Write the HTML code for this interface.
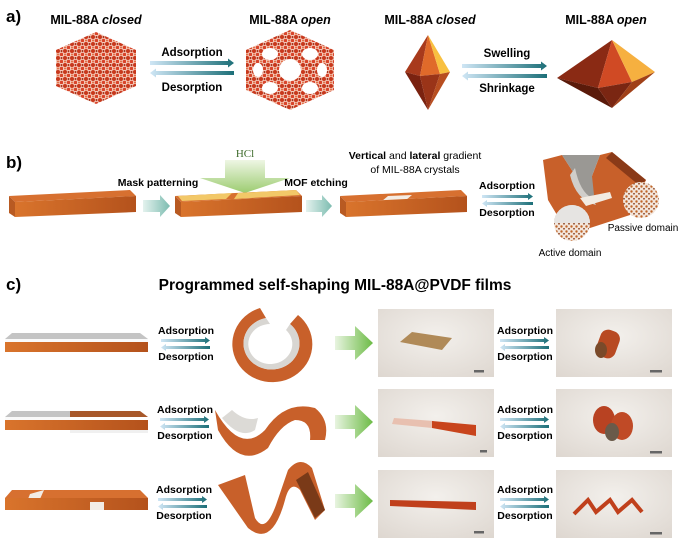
<!DOCTYPE html>
<html><head><meta charset="utf-8"><style>
html,body{margin:0;padding:0;background:#fff;}
svg{display:block;font-family:"Liberation Sans",Arial,sans-serif;}
.b{font-weight:bold;}
</style></head><body>
<svg width="680" height="542" viewBox="0 0 680 542" xmlns="http://www.w3.org/2000/svg">
<defs>
<linearGradient id="ar" x1="0" x2="1"><stop offset="0" stop-color="#cfe6f5"/><stop offset="1" stop-color="#1c6f78"/></linearGradient>
<linearGradient id="al" x1="1" x2="0"><stop offset="0" stop-color="#1c6f78"/><stop offset="1" stop-color="#cfe6f5"/></linearGradient>
<linearGradient id="gr" x1="0" x2="1"><stop offset="0" stop-color="#e8f4e0"/><stop offset="1" stop-color="#6cbb45"/></linearGradient>
<linearGradient id="gd" x1="0" y1="0" x2="0" y2="1"><stop offset="0" stop-color="#eef6e4"/><stop offset="1" stop-color="#9ccc70"/></linearGradient>
<linearGradient id="tl" x1="0" x2="1"><stop offset="0" stop-color="#e4f2ee"/><stop offset="1" stop-color="#7cbcb0"/></linearGradient>
<linearGradient id="fr" x1="0" x2="1"><stop offset="0" stop-color="#d9742c"/><stop offset="1" stop-color="#b4521c"/></linearGradient>
<radialGradient id="ph" cx="0.5" cy="0.4" r="0.8"><stop offset="0" stop-color="#f3f0ec"/><stop offset="1" stop-color="#ddd6cf"/></radialGradient>
<pattern id="dots" width="5" height="5" patternUnits="userSpaceOnUse"><rect width="5" height="5" fill="#f3e6dc"/><circle cx="1.5" cy="1.5" r="1.2" fill="#c0662a"/><circle cx="4" cy="3.8" r="0.9" fill="#8c4420"/></pattern>
<pattern id="hex" width="7" height="7" patternUnits="userSpaceOnUse"><rect width="7" height="7" fill="#f4c8b8"/><circle cx="2" cy="2" r="2" fill="#c8381c"/><circle cx="5.5" cy="5.5" r="1.8" fill="#d8442a"/><circle cx="5.5" cy="2" r="1" fill="#a02a12"/><circle cx="2" cy="5.5" r="1" fill="#e06a40"/></pattern>
</defs>

<!-- a -->
<text x="6" y="22" class="b" font-size="17">a)</text>
<text x="96" y="24" class="b" font-size="12.5" text-anchor="middle">MIL-88A <tspan font-style="italic">closed</tspan></text>
<text x="290" y="24" class="b" font-size="12.5" text-anchor="middle">MIL-88A <tspan font-style="italic">open</tspan></text>
<text x="430" y="24" class="b" font-size="12.5" text-anchor="middle">MIL-88A <tspan font-style="italic">closed</tspan></text>
<text x="606" y="24" class="b" font-size="12.5" text-anchor="middle">MIL-88A <tspan font-style="italic">open</tspan></text>
<polygon points="96,32 136,50 136,86 96,104 56,86 56,50" fill="url(#hex)"/>
<polygon points="290,30 334,50 334,90 290,110 246,90 246,50" fill="url(#hex)"/>
<g fill="#fff"><circle cx="290" cy="70" r="11"/><ellipse cx="270" cy="54" rx="8" ry="6"/><ellipse cx="310" cy="54" rx="8" ry="6"/><ellipse cx="270" cy="88" rx="8" ry="6"/><ellipse cx="310" cy="88" rx="8" ry="6"/><ellipse cx="258" cy="70" rx="5" ry="7"/><ellipse cx="322" cy="70" rx="5" ry="7"/></g>
<text x="192" y="56" class="b" font-size="11.5" text-anchor="middle">Adsorption</text>
<polygon points="150,61 228,61 228,58.5 234,63 228,67.5 228,65 150,65" fill="url(#ar)"/>
<polygon points="234,71 156,71 156,68.5 150,73 156,77.5 156,75 234,75" fill="url(#al)"/>
<text x="192" y="91" class="b" font-size="11.5" text-anchor="middle">Desorption</text>
<polygon points="428,35 405,72 420,76" fill="#a83a1c"/>
<polygon points="428,35 420,76 440,74" fill="#e06a2a"/>
<polygon points="428,35 440,74 450,72" fill="#f8c040"/>
<polygon points="405,72 420,76 428,110" fill="#7a2210"/>
<polygon points="420,76 440,74 428,110" fill="#9a3418"/>
<polygon points="440,74 450,72 428,110" fill="#b84e20"/>
<text x="507" y="57" class="b" font-size="11.5" text-anchor="middle">Swelling</text>
<polygon points="462,64 541,64 541,61.5 547,66 541,70.5 541,68 462,68" fill="url(#ar)"/>
<polygon points="547,74 468,74 468,71.5 462,76 468,80.5 468,78 547,78" fill="url(#al)"/>
<text x="507" y="92" class="b" font-size="11.5" text-anchor="middle">Shrinkage</text>
<polygon points="612,40 557,78 598,88" fill="#8a2a14"/>
<polygon points="612,40 598,88 632,82" fill="#d04a24"/>
<polygon points="612,40 632,82 655,72" fill="#f6b040"/>
<polygon points="557,78 598,88 612,108" fill="#5a1a0a"/>
<polygon points="598,88 632,82 612,108" fill="#7a2612"/>
<polygon points="632,82 655,72 612,108" fill="#a04018"/>

<!-- b -->
<text x="6" y="168" class="b" font-size="17">b)</text>
<text x="245" y="157" font-size="11" fill="#3c6a2a" text-anchor="middle" font-family="Liberation Serif,serif">HCl</text>
<polygon points="225,160 265,160 265,178 290,178 245,193 200,178 225,178" fill="url(#gd)"/>
<text x="158" y="186" class="b" font-size="10.5" text-anchor="middle">Mask patterning</text>
<text x="316" y="186" class="b" font-size="10.5" text-anchor="middle">MOF etching</text>
<text x="415" y="159" font-size="10.5" text-anchor="middle"><tspan class="b">Vertical</tspan> and <tspan class="b">lateral</tspan> gradient</text>
<text x="415" y="173" font-size="10.5" text-anchor="middle">of MIL-88A crystals</text>
<g>
<polygon points="9,196 130,190 136,196 15,202" fill="#d77030"/>
<polygon points="9,196 15,202 15,217 9,213" fill="#b85a22"/>
<polygon points="15,202 136,196 136,212 15,217" fill="url(#fr)"/>
<polygon points="143,200 160,200 160,195 170,206 160,217 160,212 143,212" fill="url(#tl)"/>
<polygon points="175,196 296,190 302,196 181,202" fill="#d77030"/>
<polygon points="178,196 232,193 226,199 182,201" fill="#f2c868"/>
<polygon points="238,193 296,190 300,195 234,199" fill="#f2c868"/>
<polygon points="175,196 181,202 181,217 175,213" fill="#b85a22"/>
<polygon points="181,202 302,196 302,212 181,217" fill="url(#fr)"/>
<polygon points="306,200 322,200 322,195 332,206 322,217 322,212 306,212" fill="url(#tl)"/>
<polygon points="340,196 461,190 467,196 346,202" fill="#d77030"/>
<polygon points="382,201 388,196 412,195 406,200" fill="#f4ece4"/>
<polygon points="340,196 346,202 346,217 340,213" fill="#b85a22"/>
<polygon points="346,202 467,196 467,212 346,217" fill="url(#fr)"/>
</g>
<text x="507" y="189" class="b" font-size="10.5" text-anchor="middle">Adsorption</text>
<polygon points="482,195 528,195 528,193 533,196.5 528,200 528,198 482,198" fill="url(#ar)"/>
<polygon points="533,202 487,202 487,200 482,203.5 487,207 487,205 533,205" fill="url(#al)"/>
<text x="507" y="216" class="b" font-size="10.5" text-anchor="middle">Desorption</text>
<polygon points="543,160 562,155 575,175 592,176 600,155 612,152 646,180 630,215 590,228 560,220 548,200" fill="#c8602a"/>
<polygon points="562,155 575,175 584,200 594,195 592,176 600,155" fill="#9a9894"/>
<path d="M575,168 Q580,192 592,198 L596,205 Q576,200 570,175 Z" fill="#d0ceca"/>
<polygon points="580,198 610,192 612,198 586,206" fill="#f2ebe2"/>
<polygon points="612,152 646,180 640,186 606,158" fill="#8a3a18"/>
<circle cx="641" cy="200" r="18" fill="url(#dots)"/>
<circle cx="572" cy="223" r="18" fill="url(#dots)"/>
<path d="M554,223 A18,18 0 0 1 590,223 Z" fill="#e6e4e2"/>
<text x="643" y="231" font-size="10" text-anchor="middle">Passive domain</text>
<text x="570" y="256" font-size="10" text-anchor="middle">Active domain</text>

<!-- c -->
<text x="6" y="290" class="b" font-size="17">c)</text>
<text x="335" y="290" class="b" font-size="15.5" text-anchor="middle">Programmed self-shaping MIL-88A@PVDF films</text>

<!-- row 1 -->
<polygon points="5,339 12,333 140,333 148,339" fill="#c4c4c4"/>
<rect x="5" y="339" width="143" height="3" fill="#fafafa"/>
<rect x="5" y="342" width="143" height="10" fill="url(#fr)"/>
<path d="M260,308 A40,38 0 1 0 298,315 L290,324 A28,26 0 1 1 266,318 Z" fill="#c8602a"/>
<path d="M266,318 A28,26 0 1 0 290,324 L286,330 A22,20 0 1 1 270,324 Z" fill="#d8d6d2"/>
<polygon points="335,336 355,336 355,326 373,343 355,360 355,350 335,350" fill="url(#gr)"/>
<rect x="378" y="309" width="116" height="68" fill="url(#ph)"/>
<polygon points="400,342 412,332 452,338 442,350" fill="#b08a58"/>
<rect x="474" y="370" width="10" height="2.5" fill="#666"/>
<rect x="556" y="309" width="116" height="68" fill="url(#ph)"/>
<rect x="598" y="330" width="20" height="28" rx="8" fill="#b84a22" transform="rotate(20 608 344)"/>
<ellipse cx="601" cy="350" rx="6" ry="8" fill="#7a4a2a"/>
<rect x="650" y="370" width="12" height="2.5" fill="#666"/>

<!-- row 2 -->
<polygon points="5,417 12,411 70,411 70,417" fill="#c4c4c4"/>
<polygon points="70,411 140,411 148,417 70,417" fill="#a8582a"/>
<rect x="5" y="417" width="65" height="3" fill="#fafafa"/>
<rect x="5" y="420" width="143" height="10" fill="url(#fr)"/>
<rect x="70" y="430" width="78" height="3" fill="#f0f0f0"/>
<path d="M215,410 Q240,455 265,430 Q285,400 315,408 Q330,420 325,440 L310,440 Q312,420 295,420 Q280,425 268,448 Q240,470 218,430 Z" fill="#c8602a"/>
<path d="M222,418 Q240,440 255,430 L258,418 Q245,422 232,410 Z" fill="#dcdad6"/>
<polygon points="335,415 355,415 355,405 373,422 355,439 355,429 335,429" fill="url(#gr)"/>
<rect x="378" y="389" width="116" height="68" fill="url(#ph)"/>
<polygon points="392,424 394,418 434,421 432,428" fill="#e8c0b0"/>
<polygon points="432,421 476,425 476,436 432,428" fill="#c8441c"/>
<rect x="480" y="450" width="7" height="2.5" fill="#666"/>
<rect x="556" y="389" width="116" height="68" fill="url(#ph)"/>
<ellipse cx="604" cy="420" rx="11" ry="14" fill="#b84222"/>
<ellipse cx="622" cy="426" rx="11" ry="14" fill="#c04a26"/>
<ellipse cx="612" cy="432" rx="7" ry="9" fill="#6a5a4a"/>
<rect x="650" y="451" width="12" height="2.5" fill="#666"/>

<!-- row 3 -->
<polygon points="5,498 12,490 140,490 148,498" fill="#d77030"/>
<polygon points="30,494 44,490 40,499 28,499" fill="#f2ece4"/>
<rect x="5" y="498" width="143" height="12" fill="url(#fr)"/>
<rect x="90" y="502" width="14" height="8" fill="#f2ece4"/>
<path d="M218,485 L245,475 L255,518 Q265,535 276,505 L288,470 Q300,455 312,468 L325,510 L315,520 L300,490 Q290,480 285,500 Q272,548 248,528 Z" fill="#c8602a"/>
<polygon points="296,480 308,472 325,510 315,518" fill="#7a3a18"/>
<polygon points="335,494 355,494 355,484 373,501 355,518 355,508 335,508" fill="url(#gr)"/>
<rect x="378" y="470" width="116" height="68" fill="url(#ph)"/>
<polygon points="390,500 476,502 476,510 390,506" fill="#c0401c"/>
<rect x="474" y="531" width="10" height="2.5" fill="#666"/>
<rect x="556" y="470" width="116" height="68" fill="url(#ph)"/>
<polyline points="574,514 588,500 596,512 610,500 618,512 632,500 642,512" fill="none" stroke="#c0401c" stroke-width="4"/>
<rect x="650" y="532" width="12" height="2.5" fill="#666"/>

<g class="b" font-size="10.5" text-anchor="middle" font-weight="bold">
<text x="186" y="334">Adsorption</text><text x="186" y="360">Desorption</text>
<text x="525" y="334">Adsorption</text><text x="525" y="360">Desorption</text>
<text x="185" y="413">Adsorption</text><text x="185" y="439">Desorption</text>
<text x="525" y="413">Adsorption</text><text x="525" y="439">Desorption</text>
<text x="184" y="493">Adsorption</text><text x="184" y="519">Desorption</text>
<text x="525" y="493">Adsorption</text><text x="525" y="519">Desorption</text>
</g>
<g>
<polygon points="161,339 205,339 205,337 210,340.5 205,344 205,342 161,342" fill="url(#ar)"/>
<polygon points="210,346 166,346 166,344 161,347.5 166,351 166,349 210,349" fill="url(#al)"/>
<polygon points="500,339 544,339 544,337 549,340.5 544,344 544,342 500,342" fill="url(#ar)"/>
<polygon points="549,346 505,346 505,344 500,347.5 505,351 505,349 549,349" fill="url(#al)"/>
<polygon points="160,418 204,418 204,416 209,419.5 204,423 204,421 160,421" fill="url(#ar)"/>
<polygon points="209,425 165,425 165,423 160,426.5 165,430 165,428 209,428" fill="url(#al)"/>
<polygon points="500,418 544,418 544,416 549,419.5 544,423 544,421 500,421" fill="url(#ar)"/>
<polygon points="549,425 505,425 505,423 500,426.5 505,430 505,428 549,428" fill="url(#al)"/>
<polygon points="158,498 202,498 202,496 207,499.5 202,503 202,501 158,501" fill="url(#ar)"/>
<polygon points="207,505 163,505 163,503 158,506.5 163,510 163,508 207,508" fill="url(#al)"/>
<polygon points="500,498 544,498 544,496 549,499.5 544,503 544,501 500,501" fill="url(#ar)"/>
<polygon points="549,505 505,505 505,503 500,506.5 505,510 505,508 549,508" fill="url(#al)"/>
</g>
</svg>
</body></html>
